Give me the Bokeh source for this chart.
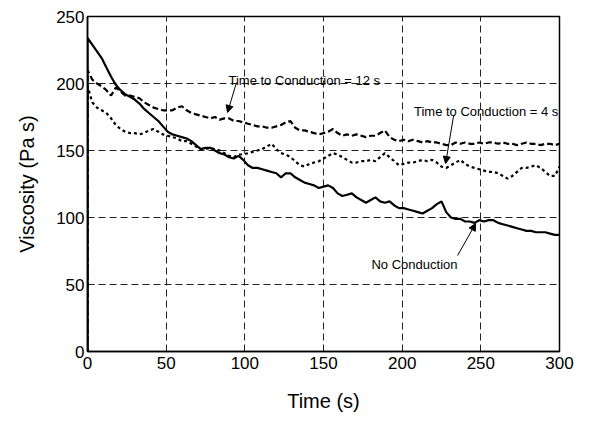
from bokeh.plotting import figure
from bokeh.models import Range1d, FixedTicker, Label, Arrow, NormalHead
from bokeh.embed import file_html
from bokeh.resources import INLINE

# ---------------- data ----------------
time_s = [0, 0, 3, 6, 9, 12, 15, 18, 21, 24, 27, 30, 33, 36, 39, 42, 45, 48, 51, 54, 57,
          60, 63, 66, 69, 72, 75, 78, 81, 84, 87, 90, 93, 96, 99, 102, 105, 108, 111, 114, 117,
          120, 123, 126, 129, 132, 135, 138, 141, 144, 147, 150, 153, 156, 159, 162, 165, 168, 171, 174, 177,
          180, 183, 186, 189, 192, 195, 198, 201, 204, 207, 210, 213, 216, 219, 222, 225, 228, 231, 234, 237,
          240, 243, 246, 249, 252, 255, 258, 261, 264, 267, 270, 273, 276, 279, 282, 285, 288, 291, 294, 297, 300]

no_conduction = [0, 234, 229, 224, 219, 212, 205, 199, 195, 192, 190, 188, 185, 181, 178, 175, 172, 168, 164, 162, 161,
                 160, 159, 157, 154, 151, 152, 152, 150, 148, 147, 145, 144, 146, 143, 139, 137, 137, 136, 135, 134,
                 133, 130, 133, 133, 130, 128, 126, 125, 124, 122, 123, 124, 122, 118, 116, 117, 118, 115, 113, 111,
                 113, 115, 112, 111, 112, 109, 107, 107, 106, 105, 104, 103, 105, 107, 110, 112, 104, 100, 99, 99,
                 97, 97, 96, 98, 97, 98, 98, 96, 95, 94, 93, 92, 91, 90, 90, 89, 89, 89, 88, 87, 87]

ttc_12s = [0, 210, 203, 200, 198, 195, 191, 197, 194, 191, 191, 190, 189, 186, 184, 182, 181, 180, 180, 180, 182,
           183, 180, 178, 177, 176, 175, 174, 175, 173, 174, 174, 172, 172, 171, 170, 169, 168, 168, 167, 167,
           168, 169, 171, 172, 167, 165, 165, 164, 163, 162, 163, 164, 166, 163, 161, 162, 161, 162, 161, 160,
           161, 161, 163, 165, 160, 158, 157, 158, 157, 158, 157, 156, 157, 156, 156, 155, 154, 154, 156, 155,
           156, 155, 155, 156, 155, 156, 156, 155, 156, 155, 155, 154, 155, 156, 155, 155, 154, 155, 155, 154, 155]

ttc_4s = [0, 198, 186, 182, 180, 178, 174, 169, 166, 164, 163, 163, 162, 163, 165, 166, 164, 162, 161, 160, 159,
          157, 157, 155, 153, 151, 151, 152, 151, 150, 148, 146, 145, 147, 147, 148, 149, 150, 151, 153, 155,
          151, 148, 147, 145, 142, 139, 138, 140, 141, 142, 144, 146, 148, 147, 145, 143, 141, 141, 142, 142,
          143, 142, 145, 148, 145, 142, 139, 140, 141, 141, 142, 143, 142, 143, 141, 138, 137, 139, 141, 143,
          140, 138, 137, 136, 135, 134, 134, 133, 131, 129, 131, 134, 137, 137, 138, 139, 137, 134, 131, 131, 138]

x_ticks = [0, 50, 100, 150, 200, 250, 300]
y_ticks = [0, 50, 100, 150, 200, 250]

# annotation texts and anchor points (data units)
ann_texts = ["Time to Conduction = 12 s", "Time to Conduction = 4 s", "No Conduction"]
ann_text_x = [89.6, 207.5, 180.5]
ann_text_y = [202, 179, 65]
arrow_x0 = [94.7, 232.7, 235.2]
arrow_y0 = [200.7, 176, 71.6]
arrow_x1 = [89, 227.6, 246.7]
arrow_y1 = [178.4, 140.3, 95.5]

FONT = "Liberation Sans"

p = figure(width=601, height=421, output_backend="svg", toolbar_location=None,
           x_range=Range1d(0, 300), y_range=Range1d(0, 250),
           min_border_left=87, min_border_right=42, min_border_top=16, min_border_bottom=70,
           background_fill_color="white", border_fill_color="white")

p.line(time_s, no_conduction, line_color="black", line_width=2.2)
p.line(time_s, ttc_12s, line_color="black", line_width=2.2, line_dash="6 3")
p.line(time_s, ttc_4s, line_color="black", line_width=2.2, line_dash="3 3")

p.xaxis.ticker = FixedTicker(ticks=x_ticks)
p.yaxis.ticker = FixedTicker(ticks=y_ticks)
p.xaxis.axis_label = "Time (s)"
p.yaxis.axis_label = "Viscosity (Pa s)"

for ax in (p.xaxis, p.yaxis):
    ax.axis_label_text_font = FONT
    ax.axis_label_text_font_size = "20px"
    ax.axis_label_text_font_style = "normal"
    ax.axis_label_text_color = "black"
    ax.major_label_text_font = FONT
    ax.major_label_text_font_size = "17px"
    ax.major_label_text_color = "black"
    ax.major_tick_in = 0
    ax.major_tick_out = 0
    ax.minor_tick_in = 0
    ax.minor_tick_out = 0
    ax.axis_line_color = "black"
    ax.axis_line_width = 1.5

p.xaxis.major_label_standoff = 5
p.xaxis.axis_label_standoff = 18
p.yaxis.major_label_standoff = 3
p.yaxis.axis_label_standoff = 15

for g in (p.xgrid, p.ygrid):
    g.grid_line_color = "#222222"
    g.grid_line_dash = "7 4"
    g.grid_line_width = 1

p.outline_line_color = "black"
p.outline_line_width = 1.5
p.outline_line_alpha = 1

for t, tx, ty in zip(ann_texts, ann_text_x, ann_text_y):
    p.add_layout(Label(x=tx, y=ty, text=t, text_font=FONT, text_font_size="13px",
                       text_color="black", text_baseline="alphabetic"))

for x0, y0, x1, y1 in zip(arrow_x0, arrow_y0, arrow_x1, arrow_y1):
    p.add_layout(Arrow(end=NormalHead(size=7, fill_color="black", line_color="black"),
                       x_start=x0, y_start=y0, x_end=x1, y_end=y1,
                       line_color="black", line_width=1))

open("out.html", "w").write(file_html(p, INLINE))
